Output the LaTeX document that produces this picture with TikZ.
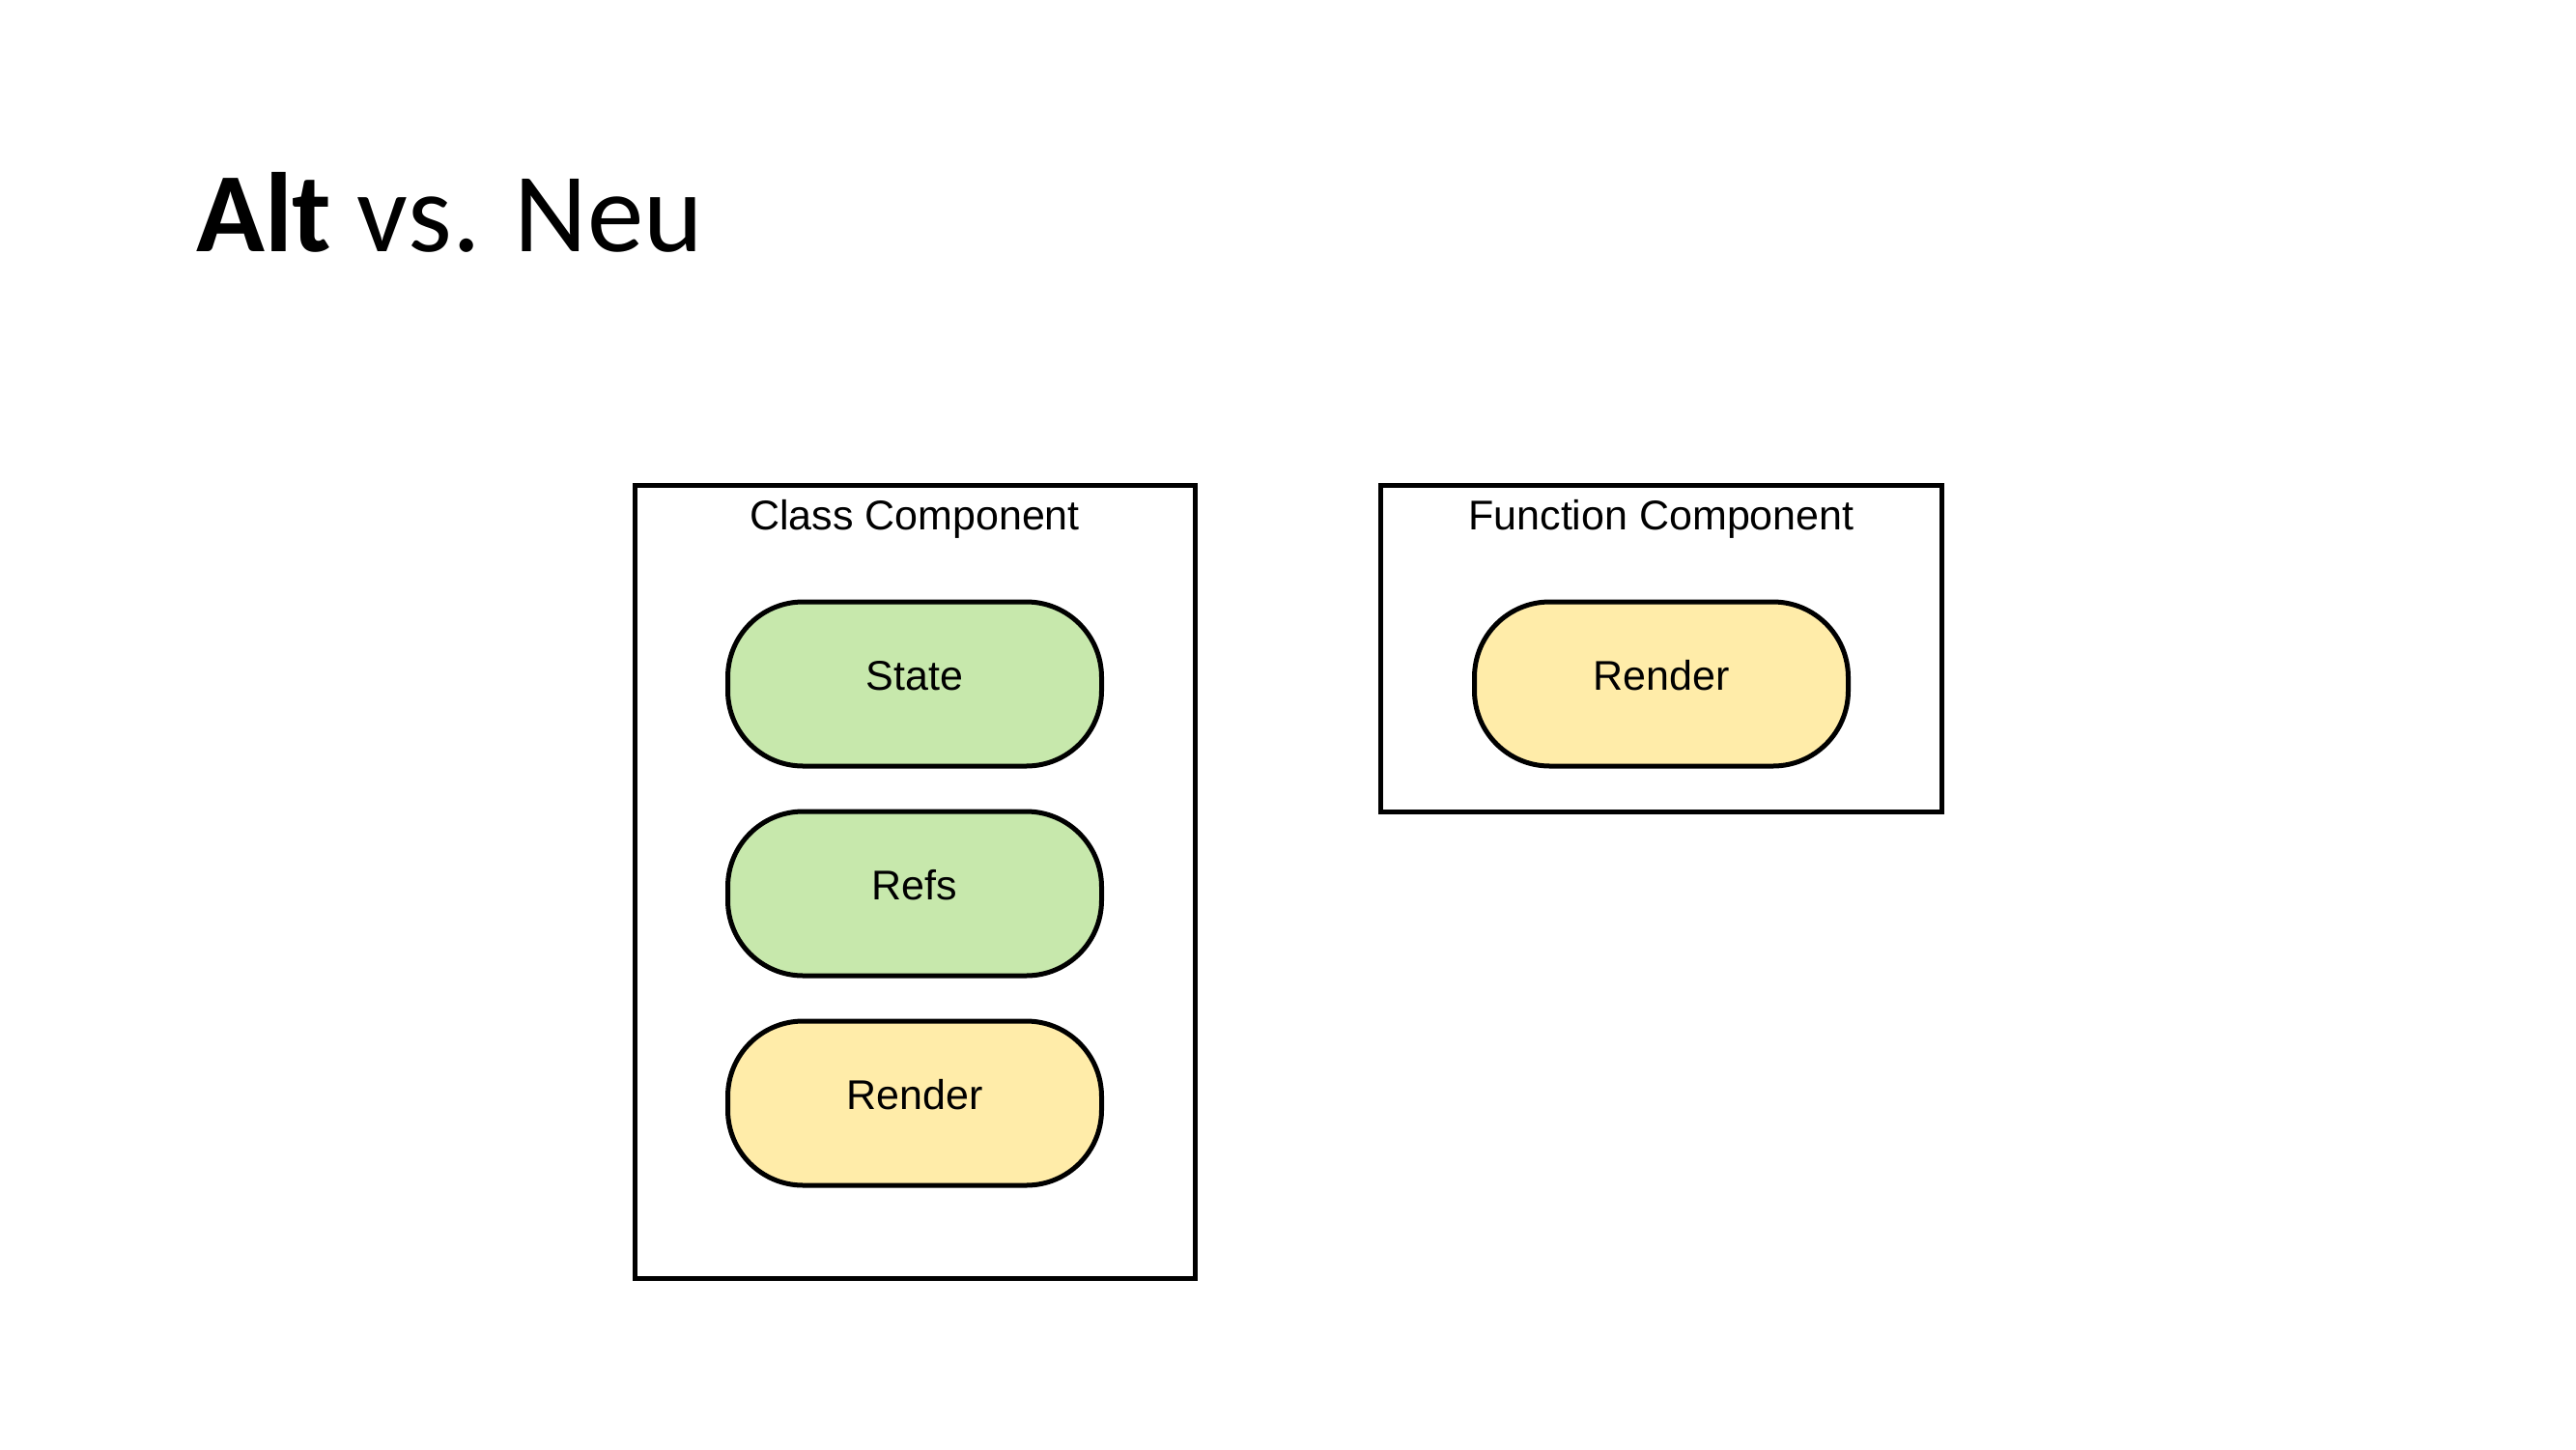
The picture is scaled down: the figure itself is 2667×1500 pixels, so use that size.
\documentclass[tikz,border=0pt]{standalone}
\usepackage{fontspec}
\setmainfont{Carlito}
\newfontfamily\arialf{Liberation Sans}
\definecolor{pillgreen}{HTML}{C7E8AC}
\definecolor{pillyellow}{HTML}{FFECA9}
\begin{document}
\begin{tikzpicture}[x=1pt,y=-1pt,
  frame/.style={draw=black,line width=5pt,fill=white},
  pill/.style={draw=black,line width=5pt,rounded corners=78pt,minimum width=387pt,minimum height=170pt,inner sep=0pt},
  lbl/.style={font=\arialf\fontsize{43}{50}\selectfont,anchor=base,inner sep=0pt}]
\useasboundingbox (0,0) rectangle (2667,1500);
\fill[white] (0,0) rectangle (2667,1500);
% title
\node[anchor=base west,inner sep=0pt,font=\fontsize{117}{140}\selectfont] (title) at (203,260) {\textbf{Alt} vs. Neu};
% class component
\draw[frame] (657,502) rectangle (1237,1323);
\node[lbl] (cclabel) at (947,548) {Class Component};
\node[pill,fill=pillgreen] (state) at (947,708) {};
\node[lbl] (statet) at (947,714) {State};
\node[pill,fill=pillgreen] (refs) at (947,925) {};
\node[lbl] (refst) at (947,931) {Refs};
\node[pill,fill=pillyellow] (render1) at (947,1142) {};
\node[lbl] (render1t) at (947,1148) {Render};
% function component
\draw[frame] (1429,502) rectangle (2010,840);
\node[lbl] (fclabel) at (1720,548) {Function Component};
\node[pill,fill=pillyellow] (render2) at (1720,708) {};
\node[lbl] (render2t) at (1720,714) {Render};
\end{tikzpicture}
\end{document}
